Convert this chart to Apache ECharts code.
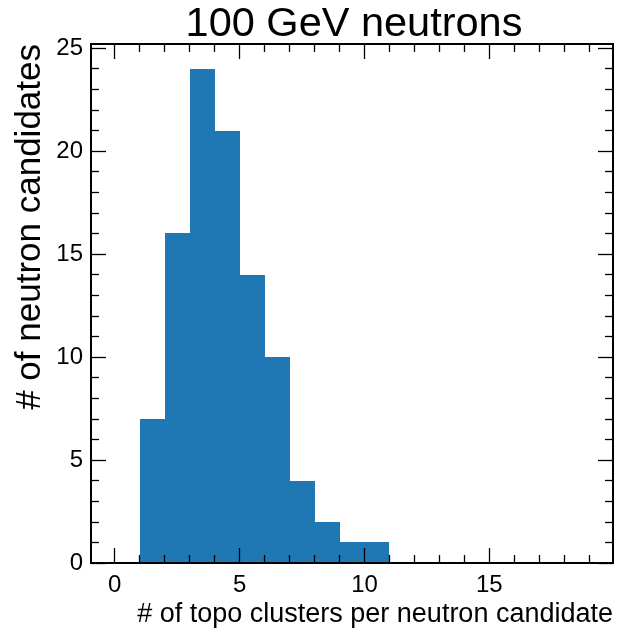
<!DOCTYPE html>
<html>
<head>
<meta charset="utf-8">
<script src="https://cdn.jsdelivr.net/npm/echarts@6/dist/echarts.min.js"></script>
<style>
html,body{margin:0;padding:0;background:#fff;}
#chart{width:617px;height:632px;}
</style>
</head>
<body>
<div id="chart"></div>
<script>
// Histogram data
const binEdges = [1, 2, 3, 4, 5, 6, 7, 8, 9, 10, 11];
const counts = [7, 16, 24, 21, 14, 10, 4, 2, 1, 1];
const xTicks = [0, 5, 10, 15];
const xMinorTicks = [1, 2, 3, 4, 6, 7, 8, 9, 11, 12, 13, 14, 16, 17, 18, 19];
const yTicks = [0, 5, 10, 15, 20, 25];
const yMinorTicks = [1, 2, 3, 4, 6, 7, 8, 9, 11, 12, 13, 14, 16, 17, 18, 19, 21, 22, 23, 24];
const titleText = '100 GeV neutrons';
const xLabel = '# of topo clusters per neutron candidate';
const yLabel = '# of neutron candidates';

const XMIN = -0.95, XMAX = 19.95, YMIN = 0, YMAX = 25.2;
const FONT = '"Liberation Sans", Arial, Helvetica, sans-serif';

const histData = counts.map((c, i) => [binEdges[i], binEdges[i + 1], c]);

const chart = echarts.init(document.getElementById('chart'), null, {renderer: 'canvas'});
const lineStyle = {color: '#000', width: 2};

function axisDef(kind, pos, major, withLabels) {
  const isX = kind === 'x';
  const majors = isX ? xTicks : yTicks;
  const minors = isX ? xMinorTicks : yMinorTicks;
  return {
    type: 'value', position: pos,
    min: isX ? XMIN : YMIN, max: isX ? XMAX : YMAX, z: 5,
    axisLine: {show: true, onZero: false, lineStyle: lineStyle},
    axisTick: {show: true, inside: true, length: major ? 15 : 8,
      customValues: major ? majors : minors,
      lineStyle: {color: '#000', width: 1.3}},
    minorTick: {show: false},
    splitLine: {show: false},
    axisLabel: {show: withLabels, customValues: majors, margin: isX ? 10 : 8, color: '#000',
      fontSize: 24, fontFamily: FONT, formatter: v => String(v)}
  };
}

const option = {
  backgroundColor: '#fff',
  animation: false,
  title: {
    text: titleText, left: 349, top: -1, textAlign: 'center',
    textStyle: {fontFamily: FONT, fontSize: 41.5, fontWeight: 'normal', color: '#000'}
  },
  grid: {left: 91, top: 44, right: 4, bottom: 69, containLabel: false},
  xAxis: [
    axisDef('x', 'bottom', true, true),
    axisDef('x', 'bottom', false, false),
    axisDef('x', 'top', true, false),
    axisDef('x', 'top', false, false)
  ],
  yAxis: [
    axisDef('y', 'left', true, true),
    axisDef('y', 'left', false, false),
    axisDef('y', 'right', true, false),
    axisDef('y', 'right', false, false)
  ],
  graphic: [
    {
      type: 'text', x: 613, y: 615, z: 10,
      style: {text: xLabel, textAlign: 'right', textVerticalAlign: 'middle', font: '27px ' + FONT, fill: '#000'}
    },
    {
      type: 'text', x: 30, y: 44, rotation: Math.PI / 2, z: 10,
      style: {text: yLabel, textAlign: 'right', textVerticalAlign: 'middle', font: '35px ' + FONT, fill: '#000'}
    }
  ],
  series: [{
    type: 'custom',
    xAxisIndex: 0, yAxisIndex: 0,
    data: histData,
    encode: {x: [0, 1], y: 2},
    renderItem: function (params, api) {
      const p0 = api.coord([api.value(0), api.value(2)]);
      const p1 = api.coord([api.value(1), 0]);
      const x0 = Math.round(p0[0]), x1 = Math.round(p1[0]);
      const y0 = Math.round(p0[1]), y1 = Math.round(p1[1]);
      return {
        type: 'rect',
        shape: {x: x0, y: y0, width: x1 - x0, height: y1 - y0},
        style: {fill: '#1f77b4'}
      };
    }
  }]
};
chart.setOption(option);
</script>
</body>
</html>
